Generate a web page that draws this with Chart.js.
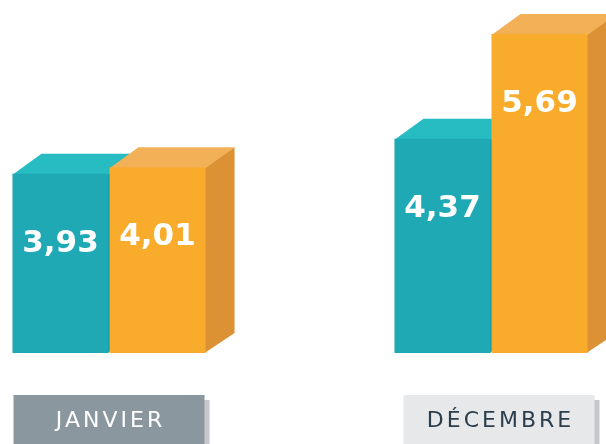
<!DOCTYPE html>
<html>
<head>
<meta charset="utf-8">
<script src="https://cdn.jsdelivr.net/npm/chart.js@4"></script>
<style>
  html, body { margin: 0; padding: 0; background: #ffffff; }
  #wrap { width: 606px; height: 444px; overflow: hidden; }
</style>
</head>
<body>
<div id="wrap"><canvas id="c" width="606" height="444"></canvas></div>
<script>
// ---- data ----
const categories = ['JANVIER', 'DÉCEMBRE'];
const serieA = [3.93, 4.37];   // teal
const serieB = [4.01, 5.69];   // orange
const axisBase = 1.67;

// ---- styles ----
const faceColors = [
  { front: '#1ea9b4', top: '#27bcc1', side: '#178d97' },
  { front: '#f9ac2b', top: '#f3b157', side: '#db9134' }
];
const DX = 29, DY = 20;

const fmt = v => v.toFixed(2).replace('.', ',');

const bars3d = {
  id: 'bars3d',
  beforeDatasetsDraw(chart) {
    const ctx = chart.ctx;
    ctx.save();
    chart.data.datasets.forEach((ds, di) => {
      const meta = chart.getDatasetMeta(di);
      const col = faceColors[di];
      meta.data.forEach(bar => {
        const p = bar.getProps(['x', 'y', 'base', 'width'], true);
        const l = p.x - p.width / 2, r = p.x + p.width / 2;
        // side face
        ctx.fillStyle = col.side;
        ctx.beginPath();
        ctx.moveTo(r - 1, p.y);
        ctx.lineTo(r + DX, p.y - DY);
        ctx.lineTo(r + DX, p.base - DY);
        ctx.lineTo(r - 1, p.base);
        ctx.closePath();
        ctx.fill();
        // top face
        ctx.fillStyle = col.top;
        ctx.beginPath();
        ctx.moveTo(l, p.y + 1);
        ctx.lineTo(l + DX, p.y - DY);
        ctx.lineTo(r + DX, p.y - DY);
        ctx.lineTo(r, p.y + 1);
        ctx.closePath();
        ctx.fill();
      });
    });
    ctx.restore();
  },
  afterDatasetsDraw(chart) {
    const ctx = chart.ctx;
    ctx.save();
    ctx.fillStyle = '#ffffff';
    ctx.font = 'bold 31px "DejaVu Sans", sans-serif';
    ctx.textAlign = 'center';
    ctx.textBaseline = 'middle';
    chart.data.datasets.forEach((ds, di) => {
      const meta = chart.getDatasetMeta(di);
      meta.data.forEach((bar, i) => {
        const p = bar.getProps(['x', 'y'], true);
        ctx.fillText(fmt(ds.data[i]), p.x, p.y + 70);
      });
    });
    ctx.restore();
  },
  afterDraw(chart, args, opts) {
    const ctx = chart.ctx;
    const xs = chart.scales.x;
    ctx.save();
    categories.forEach((cat, i) => {
      const cx = xs.getPixelForValue(i) + opts.shift[i];
      const w = 191, top = 395, h = 80;
      const left = cx - w / 2;
      ctx.fillStyle = '#c4c7cb';
      ctx.fillRect(left + 5, top + 5, w, h);
      ctx.fillStyle = opts.boxColors[i];
      ctx.fillRect(left, top, w, h);
      ctx.fillStyle = opts.textColors[i];
      ctx.font = '22px "DejaVu Sans", sans-serif';
      ctx.letterSpacing = '3px';
      ctx.textAlign = 'center';
      ctx.textBaseline = 'middle';
      ctx.fillText(cat, cx + 1.5, 421);
    });
    ctx.restore();
  }
};

new Chart(document.getElementById('c'), {
  type: 'bar',
  data: {
    labels: categories,
    datasets: [
      { data: serieA, backgroundColor: faceColors[0].front, clip: false, base: axisBase,
        categoryPercentage: 0.508, barPercentage: 0.99 },
      { data: serieB, backgroundColor: faceColors[1].front, clip: false, base: axisBase,
        categoryPercentage: 0.508, barPercentage: 0.99 }
    ]
  },
  options: {
    responsive: false,
    animation: false,
    layout: { padding: { left: 109, right: 115, top: 34, bottom: 91 } },
    scales: {
      x: { type: 'category', offset: false, display: false },
      y: { min: axisBase, max: 5.69, display: false }
    },
    plugins: {
      legend: { display: false },
      tooltip: { enabled: false },
      bars3d: {
        shift: [0, 8],
        boxColors: ['#8b979f', '#e6e8ea'],
        textColors: ['#ffffff', '#2c3e4b']
      }
    }
  },
  plugins: [bars3d]
});
</script>
</body>
</html>
